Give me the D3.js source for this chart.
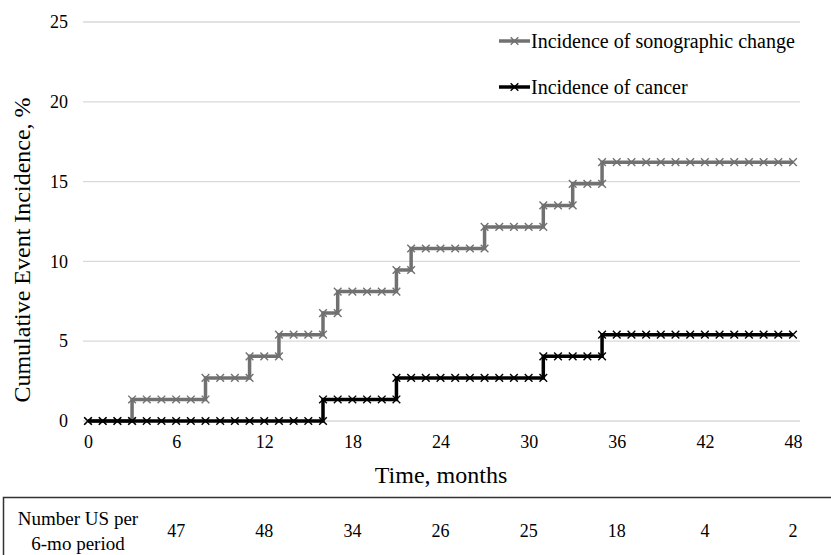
<!DOCTYPE html>
<html>
<head>
<meta charset="utf-8">
<script src="https://d3js.org/d3.v7.min.js"></script>
<style>
	body { margin: 0; background: #fff; }
</style>
</head>
<body>
<div id="chart-area"></div>
<script>

// Months on the x axis (one marker per month)
var months = d3.range(0, 49);

// Cumulative incidence (%) at each month
var sonoValues = [
	0, 0, 0, 1.35, 1.35, 1.35, 1.35, 1.35, 2.70, 2.70,
	2.70, 4.05, 4.05, 5.41, 5.41, 5.41, 6.76, 8.11, 8.11, 8.11,
	8.11, 9.46, 10.81, 10.81, 10.81, 10.81, 10.81, 12.16, 12.16, 12.16,
	12.16, 13.51, 13.51, 14.86, 14.86, 16.22, 16.22, 16.22, 16.22, 16.22,
	16.22, 16.22, 16.22, 16.22, 16.22, 16.22, 16.22, 16.22, 16.22
];
var cancerValues = [
	0, 0, 0, 0, 0, 0, 0, 0, 0, 0,
	0, 0, 0, 0, 0, 0, 1.35, 1.35, 1.35, 1.35,
	1.35, 2.70, 2.70, 2.70, 2.70, 2.70, 2.70, 2.70, 2.70, 2.70,
	2.70, 4.05, 4.05, 4.05, 4.05, 5.41, 5.41, 5.41, 5.41, 5.41,
	5.41, 5.41, 5.41, 5.41, 5.41, 5.41, 5.41, 5.41, 5.41
];

var seriesNames = ["Incidence of sonographic change", "Incidence of cancer"];
var seriesColors = ["#717171", "#000000"];

var xTicks = [0, 6, 12, 18, 24, 30, 36, 42, 48];
var yTicks = [0, 5, 10, 15, 20, 25];

// Number of ultrasounds per 6-month period
var periodEnds = [6, 12, 18, 24, 30, 36, 42, 48];
var usCounts = [47, 48, 34, 26, 25, 18, 4, 2];


var width = 831, height = 555;
var serif = "'Liberation Serif'";

var svg = d3.select("#chart-area").append("svg")
	.attr("width", width)
	.attr("height", height);

// Scales
var x = d3.scaleLinear()
	.domain([0, 48])
	.range([88, 793]);

var y = d3.scaleLinear()
	.domain([0, 25])
	.range([421, 22]);

// Gridlines
svg.append("g")
	.attr("class", "grid")
	.selectAll("line")
	.data(yTicks)
	.enter().append("line")
		.attr("x1", 83)
		.attr("x2", 800)
		.attr("y1", function(d) { return y(d); })
		.attr("y2", function(d) { return y(d); })
		.attr("stroke", "#d9d9d9")
		.attr("stroke-width", 1.3);

// Y axis labels
var yAxis = d3.axisLeft(y)
	.tickValues(yTicks)
	.tickSize(0)
	.tickPadding(0);

svg.append("g")
	.attr("class", "y-axis")
	.attr("transform", "translate(68,0)")
	.call(yAxis)
	.call(function(g) { g.select(".domain").remove(); })
	.selectAll("text")
		.style("font-family", serif)
		.style("font-size", "18px")
		.attr("fill", "#000");

// X axis labels
var xAxis = d3.axisBottom(x)
	.tickValues(xTicks)
	.tickSize(0)
	.tickPadding(0);

svg.append("g")
	.attr("class", "x-axis")
	.attr("transform", "translate(0,435)")
	.call(xAxis)
	.call(function(g) { g.select(".domain").remove(); })
	.selectAll("text")
		.style("font-family", serif)
		.style("font-size", "18px")
		.attr("fill", "#000");

// Axis titles
svg.append("text")
	.attr("x", 441)
	.attr("y", 483)
	.attr("text-anchor", "middle")
	.style("font-family", serif)
	.style("font-size", "24px")
	.text("Time, months");

svg.append("text")
	.attr("transform", "translate(30,250) rotate(-90)")
	.attr("text-anchor", "middle")
	.style("font-family", serif)
	.style("font-size", "24px")
	.text("Cumulative Event Incidence, %");


// Step lines with x markers
var allSeries = [sonoValues, cancerValues];

var line = d3.line()
	.x(function(d, i) { return x(months[i]); })
	.y(function(d) { return y(d); })
	.curve(d3.curveStepAfter);

// markers at every month, plus the foot of every step
function markerPoints(values) {
	var pts = [];
	values.forEach(function(v, i) {
		if (i > 0 && values[i - 1] !== v) pts.push([months[i], values[i - 1]]);
		pts.push([months[i], v]);
	});
	return pts;
}

var cross = d3.symbol().type(d3.symbolX).size(40);

allSeries.forEach(function(values, k) {
	var g = svg.append("g").attr("class", "series");

	g.append("path")
		.datum(values)
		.attr("fill", "none")
		.attr("stroke", seriesColors[k])
		.attr("stroke-width", 3.5)
		.attr("d", line);

	g.selectAll(".marker")
		.data(markerPoints(values))
		.enter().append("path")
			.attr("class", "marker")
			.attr("transform", function(d) { return "translate(" + x(d[0]) + "," + y(d[1]) + ")"; })
			.attr("d", cross)
			.attr("fill", "none")
			.attr("stroke", seriesColors[k])
			.attr("stroke-width", 1.4);
});


// Legend
var legend = svg.append("g")
	.attr("class", "legend")
	.selectAll("g")
	.data(seriesNames)
	.enter().append("g")
		.attr("transform", function(d, i) { return "translate(499," + (41 + i * 46) + ")"; });

legend.append("line")
	.attr("x1", 0)
	.attr("x2", 31)
	.attr("stroke", function(d, i) { return seriesColors[i]; })
	.attr("stroke-width", 3.5);

legend.append("path")
	.attr("transform", "translate(15.5,0)")
	.attr("d", cross)
	.attr("fill", "none")
	.attr("stroke", function(d, i) { return seriesColors[i]; })
	.attr("stroke-width", 1.4);

legend.append("text")
	.attr("x", 32)
	.attr("dy", "0.35em")
	.style("font-family", serif)
	.style("font-size", "20px")
	.text(function(d) { return d; });


// Table of ultrasound counts
svg.append("rect")
	.attr("x", 3.5)
	.attr("y", 497.5)
	.attr("width", 840)
	.attr("height", 100)
	.attr("fill", "none")
	.attr("stroke", "#333")
	.attr("stroke-width", 1.5);

var rowLabel = svg.append("text")
	.attr("x", 78)
	.attr("text-anchor", "middle")
	.style("font-family", serif)
	.style("font-size", "19px");
rowLabel.append("tspan").attr("x", 78).attr("y", 525).text("Number US per");
rowLabel.append("tspan").attr("x", 78).attr("y", 550).text("6-mo period");

svg.selectAll(".count")
	.data(usCounts)
	.enter().append("text")
		.attr("class", "count")
		.attr("x", function(d, i) { return x(periodEnds[i]); })
		.attr("y", 537)
		.attr("text-anchor", "middle")
		.style("font-family", serif)
		.style("font-size", "18px")
		.text(function(d) { return d; });

</script>
</body>
</html>
